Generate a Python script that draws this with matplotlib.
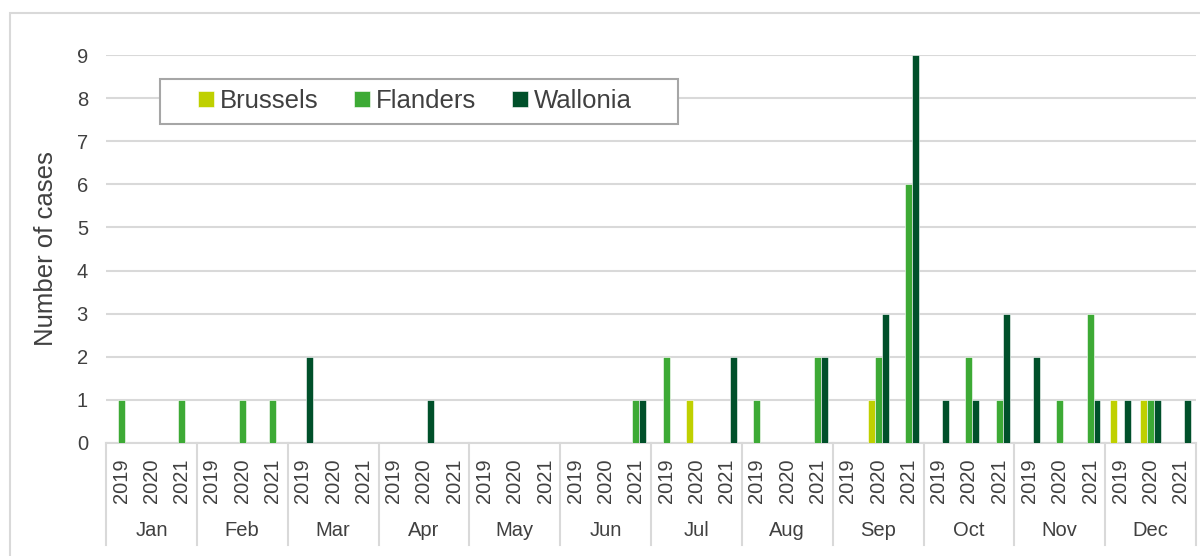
import numpy as np
import matplotlib
matplotlib.use('Agg')
import matplotlib.pyplot as plt
from matplotlib.patches import Rectangle
from matplotlib.lines import Line2D

plt.rcParams['font.family'] = ['Liberation Sans', 'DejaVu Sans']

# 数据
months = ['Jan', 'Feb', 'Mar', 'Apr', 'May', 'Jun',
          'Jul', 'Aug', 'Sep', 'Oct', 'Nov', 'Dec']
years = ['2019', '2020', '2021']
brussels = [0, 0, 0,  0, 0, 0,  0, 0, 0,  0, 0, 0,  0, 0, 0,  0, 0, 0,
            0, 1, 0,  0, 0, 0,  0, 1, 0,  0, 0, 0,  0, 0, 0,  1, 1, 0]
flanders = [1, 0, 1,  0, 1, 1,  0, 0, 0,  0, 0, 0,  0, 0, 0,  0, 0, 1,
            2, 0, 0,  1, 0, 2,  0, 2, 6,  0, 2, 1,  0, 1, 3,  0, 1, 0]
wallonia = [0, 0, 0,  0, 0, 0,  2, 0, 0,  0, 1, 0,  0, 0, 0,  0, 0, 1,
            0, 0, 2,  0, 0, 2,  0, 3, 9,  1, 1, 3,  2, 0, 1,  1, 1, 1]
series = ['Brussels', 'Flanders', 'Wallonia']
colors = ['#BFD000', '#3DAA35', '#00502A']

txt = '#404040'
grid_c = '#D9D9D9'
W, H = 1200, 556

fig = plt.figure(figsize=(12, 5.56), dpi=100)
ax = fig.add_axes([106/W, 1-443/H, 1090/W, 388/H])

x = np.arange(len(brussels))
w = 0.23
for k, (vals, c, name) in enumerate(zip([brussels, flanders, wallonia], colors, series)):
    ax.bar(x + (k-1)*w, vals, w, color=c, label=name, zorder=3,
           edgecolor='white', linewidth=0.4)

ax.set_xlim(-0.5, len(x)-0.5)
ax.set_ylim(0, 9)
ax.set_yticks(range(10))
ax.yaxis.grid(True, color=grid_c, linewidth=1.5, zorder=0)
for s in ['top', 'right', 'left']:
    ax.spines[s].set_visible(False)
ax.spines['bottom'].set_color(grid_c)
ax.spines['bottom'].set_linewidth(1.5)
ax.tick_params(axis='y', length=0, pad=13, labelsize=14.5, labelcolor=txt)

# 年份标签
ax.set_xticks(x)
ax.set_xticklabels(years * len(months), rotation=90, fontsize=14.5, color=txt)
ax.tick_params(axis='x', length=0, pad=11)

# 月份标签与分隔线
sep_bottom = -(545-443)/388
for i, m in enumerate(months):
    ax.text(3*i+1, -0.226, m, transform=ax.get_xaxis_transform(),
            ha='center', va='center', fontsize=14.5, color=txt)
for i in range(len(months)+1):
    ax.add_line(Line2D([3*i-0.5, 3*i-0.5], [0, sep_bottom],
                       transform=ax.get_xaxis_transform(), color=grid_c,
                       linewidth=1.5, clip_on=False))

ax.set_ylabel('Number of cases', fontsize=18.5, color=txt)
ax.yaxis.set_label_coords(-0.044, 0.5)

# 图例（无框，另画方框）
leg = fig.legend(loc='center left', bbox_to_anchor=(198/W, 1-101/H),
                 ncol=3, fontsize=18.5, frameon=False,
                 handlelength=0.62, handleheight=0.62, handletextpad=0.22,
                 columnspacing=1.4, borderpad=0, borderaxespad=0)
for t in leg.get_texts():
    t.set_color(txt)
fig.patches.append(Rectangle((160/W, 1-124/H), 518/W, 45/H,
                             transform=fig.transFigure, fill=True,
                             facecolor='white', edgecolor='#A6A6A6',
                             linewidth=1.5, zorder=2))

# 外框
fig.patches.append(Rectangle((10/W, -0.1), 1.2, 1.1-13/H,
                             transform=fig.transFigure, fill=False,
                             edgecolor=grid_c, linewidth=1.5))

plt.savefig('out.png', dpi=100)
